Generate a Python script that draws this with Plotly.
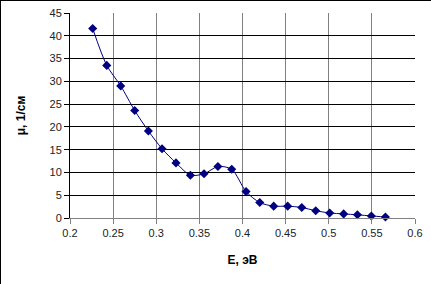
import plotly.graph_objects as go

energy_eV = [0.2263, 0.2426, 0.2588, 0.2750, 0.2909, 0.3067, 0.3229, 0.3396, 0.3554, 0.3715,
             0.3875, 0.4041, 0.4200, 0.4362, 0.4524, 0.4687, 0.4849, 0.5011, 0.5173, 0.5332,
             0.5494, 0.5657]
mu_per_cm = [41.6, 33.5, 29.0, 23.6, 19.1, 15.2, 12.1, 9.4, 9.7, 11.3,
             10.7, 5.8, 3.4, 2.6, 2.6, 2.3, 1.6, 1.1, 0.9, 0.7,
             0.45, 0.22]

x_ticks = [0.2, 0.25, 0.3, 0.35, 0.4, 0.45, 0.5, 0.55, 0.6]
x_tick_labels = ["0.2", "0.25", "0.3", "0.35", "0.4", "0.45", "0.5", "0.55", "0.6"]
y_ticks = [0, 5, 10, 15, 20, 25, 30, 35, 40, 45]

W, H = 431, 284
L, R, T, B = 70, 16, 13, 66

fig = go.Figure()
fig.add_trace(go.Scatter(
    x=energy_eV, y=mu_per_cm, mode="lines+markers",
    line=dict(color="#000080", width=1, shape="spline", smoothing=0.8),
    marker=dict(symbol="diamond", size=7, color="#000080"),
    showlegend=False, cliponaxis=False,
))

font = dict(family="Liberation Sans, Arial, sans-serif", size=11, color="#222222")
tfont = dict(family="Liberation Sans, Arial, sans-serif", size=12, color="black")

fig.update_layout(
    width=W, height=H,
    margin=dict(l=L, r=R, t=T, b=B, autoexpand=False),
    paper_bgcolor="white", plot_bgcolor="white",
    font=font,
    xaxis=dict(
        range=[0.2, 0.6], tickvals=x_ticks, ticktext=x_tick_labels,
        showgrid=True, gridcolor="#808080", gridwidth=1,
        showline=True, linecolor="#808080", linewidth=1,
        ticks="outside", ticklen=5, tickcolor="#808080",
        zeroline=False, tickfont=font, automargin=False,
        title=dict(text="<b>E, эВ</b>", font=tfont, standoff=17),
    ),
    yaxis=dict(
        range=[0, 45], tickvals=y_ticks,
        showgrid=True, gridcolor="black", gridwidth=1,
        showline=True, linecolor="black", linewidth=1,
        ticks="outside", ticklen=5, tickcolor="black",
        zeroline=False, tickfont=font, automargin=False,
        title=dict(text="<b>μ, 1/см</b>", font=tfont, standoff=21),
    ),
)

pw = W - L - R
ph = H - T - B
def px_to_paper_x(px):
    return (px - L) / pw
def py_to_paper_y(py):
    return (H - B - py) / ph

# outer frame (left and top edges)
fig.add_shape(type="line", xref="paper", yref="paper",
              x0=px_to_paper_x(0.5), x1=px_to_paper_x(W), y0=py_to_paper_y(0.5), y1=py_to_paper_y(0.5),
              line=dict(color="black", width=1))
fig.add_shape(type="line", xref="paper", yref="paper",
              x0=px_to_paper_x(0.5), x1=px_to_paper_x(0.5), y0=py_to_paper_y(0), y1=py_to_paper_y(H),
              line=dict(color="black", width=1))

fig.write_html("out.html")
